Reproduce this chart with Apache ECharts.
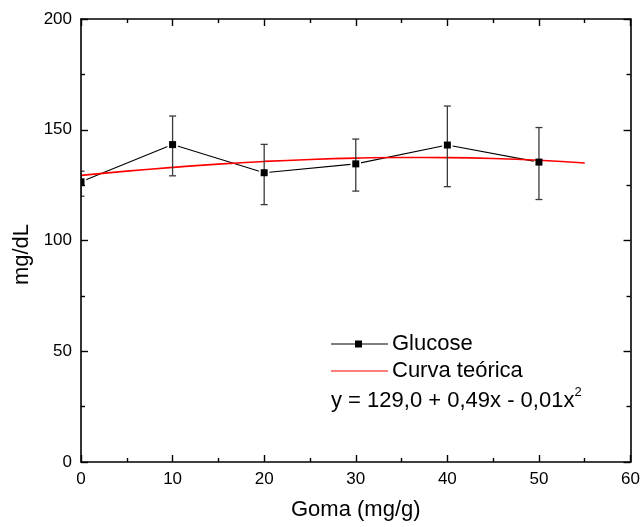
<!DOCTYPE html>
<html><head><meta charset="utf-8">
<script src="https://cdn.jsdelivr.net/npm/echarts@6/dist/echarts.min.js"></script>
<style>html,body{margin:0;padding:0;background:#fff}#c{width:643px;height:527px}</style>
</head><body><div id="c"></div>
<script>
const goma = [0, 10, 20, 30, 40, 50];
const glucose = [126.5, 143.3, 130.6, 134.6, 143.1, 135.4];
const errLow = [120.0, 129.2, 116.2, 122.3, 124.3, 118.5];
const errHigh = [131.3, 156.2, 143.4, 145.8, 160.7, 151.0];
const curveX = [0, 5, 10, 15, 20, 25, 30, 35, 40, 45, 50, 55];
const curveY = [129.4, 131.3, 133.0, 134.5, 135.7, 136.6, 137.2, 137.5, 137.4, 137.0, 136.2, 135.0];
const xTicks = [0, 10, 20, 30, 40, 50, 60];
const yTicks = [0, 50, 100, 150, 200];

const FONT = '"Liberation Sans", Arial, sans-serif';
const chart = echarts.init(document.getElementById('c'), null, {renderer: 'canvas'});

function axisCommon() {
  return {
    z: 10,
    axisLine: {show: true, onZero: false, lineStyle: {color: '#000', width: 1.6}},
    axisTick: {show: true, inside: true, length: 7, lineStyle: {color: '#000', width: 1.4}},
    minorTick: {show: true, splitNumber: 2, length: 4, lineStyle: {color: '#000', width: 1.4}},
    splitLine: {show: false}
  };
}

chart.setOption({
  animation: false,
  backgroundColor: '#fff',
  grid: {left: 81, top: 19, right: 11, bottom: 65, containLabel: false},
  xAxis: [
    Object.assign(axisCommon(), {
      type: 'value', min: 0, max: 60, interval: 10, position: 'bottom',
      name: 'Goma (mg/g)', nameLocation: 'middle', nameGap: 37,
      nameTextStyle: {fontFamily: FONT, fontSize: 22, color: '#000'},
      axisLabel: {fontFamily: FONT, fontSize: 17, color: '#000', margin: 9,
        formatter: v => xTicks.includes(v) ? String(v) : ''}
    }),
    Object.assign(axisCommon(), {
      type: 'value', min: 0, max: 60, interval: 10, position: 'top',
      axisLabel: {show: false}
    })
  ],
  yAxis: [
    Object.assign(axisCommon(), {
      type: 'value', min: 0, max: 200, interval: 50, position: 'left',
      name: 'mg/dL', nameLocation: 'middle', nameGap: 47,
      nameTextStyle: {fontFamily: FONT, fontSize: 22, color: '#000', padding: [0, 28, 0, 0]},
      axisLabel: {fontFamily: FONT, fontSize: 17, color: '#000', margin: 9,
        formatter: v => yTicks.includes(v) ? String(v) : ''}
    }),
    Object.assign(axisCommon(), {
      type: 'value', min: 0, max: 200, interval: 50, position: 'right',
      axisLabel: {show: false}
    })
  ],
  legend: {
    show: true, orient: 'vertical', left: 331, top: 333, itemGap: 5,
    itemWidth: 57, itemHeight: 10, padding: 0,
    textStyle: {fontFamily: FONT, fontSize: 22, color: '#000', padding: [0, 0, 0, -1]},
    data: [
      {name: 'Glucose', icon: 'path://M0,4.5 L24,4.5 L24,1.5 L31,1.5 L31,4.5 L57,4.5 L57,5.5 L31,5.5 L31,8.5 L24,8.5 L24,5.5 L0,5.5 Z', itemStyle: {color: '#000', borderWidth: 0}},
      {name: 'Curva teórica', icon: 'path://M0,4.6 L57,4.6 L57,5.4 L0,5.4 Z', itemStyle: {color: '#ff0000', borderWidth: 0}}
    ]
  },
  graphic: [{
    type: 'text', left: 331, top: 386,
    style: {
      text: '{a|y = 129,0 + 0,49x - 0,01x}{s|2}',
      rich: {
        a: {fontFamily: FONT, fontSize: 22, fill: '#000', verticalAlign: 'bottom', lineHeight: 26},
        s: {fontFamily: FONT, fontSize: 13, fill: '#000', verticalAlign: 'top', lineHeight: 26, padding: [0, 0, 12, 0]}
      }
    }
  }],
  series: [
    {
      name: 'Glucose', type: 'line', symbol: 'rect', symbolSize: 7,
      data: goma.map((x, i) => [x, glucose[i]]),
      lineStyle: {color: '#000', width: 1.1},
      itemStyle: {color: '#fff', borderColor: '#fff', borderWidth: 3.5}, z: 2
    },
    {
      name: 'Curva teórica', type: 'line', smooth: true, symbol: 'none',
      data: curveX.map((x, i) => [x, curveY[i]]),
      lineStyle: {color: '#ff0000', width: 1.6}, z: 3
    },
    {
      name: 'errbars', type: 'custom', clip: true,
      data: goma.map((x, i) => [x, errLow[i], errHigh[i], glucose[i]]),
      renderItem: function (params, api) {
        const lo = api.coord([api.value(0), api.value(1)]);
        const hi = api.coord([api.value(0), api.value(2)]);
        const pt = api.coord([api.value(0), api.value(3)]);
        const w = 3.5, s = 7;
        const st = {stroke: '#3a3a3a', lineWidth: 1.3};
        return {type: 'group', children: [
          {type: 'line', shape: {x1: lo[0], y1: lo[1], x2: hi[0], y2: hi[1]}, style: st},
          {type: 'line', shape: {x1: lo[0] - w, y1: lo[1], x2: lo[0] + w, y2: lo[1]}, style: st},
          {type: 'line', shape: {x1: hi[0] - w, y1: hi[1], x2: hi[0] + w, y2: hi[1]}, style: st},
          {type: 'rect', shape: {x: pt[0] - s / 2, y: pt[1] - s / 2, width: s, height: s}, style: {fill: '#000'}}
        ]};
      },
      z: 4, silent: true
    }
  ]
});
</script></body></html>
